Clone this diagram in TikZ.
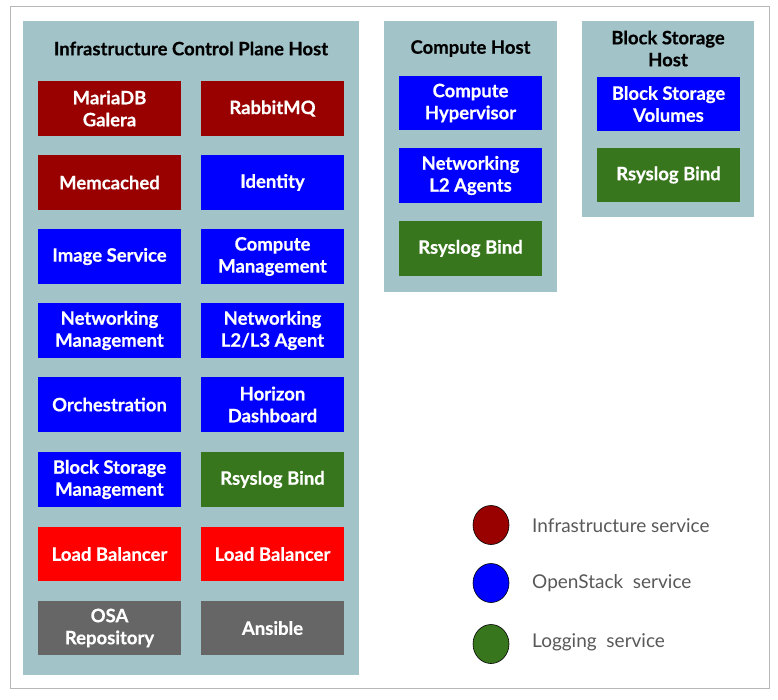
\documentclass[tikz,border=0pt]{standalone}
\usepackage{fontspec}
\setmainfont{Lato}[BoldFeatures={FakeBold=0.5}]
\newfontfamily\legfont{Lato}
\usetikzlibrary{shapes.geometric}
\definecolor{panel}{HTML}{A2C4C9}
\definecolor{infra}{HTML}{990000}
\definecolor{ostack}{HTML}{0000FF}
\definecolor{logc}{HTML}{38761D}
\definecolor{lbred}{HTML}{FF0000}
\definecolor{grayb}{HTML}{666666}
\definecolor{frame}{HTML}{B7B7B7}
\definecolor{legtext}{HTML}{595959}
\tikzset{
  panelbox/.style={fill=panel, draw=none},
  svc/.style={draw=none, minimum width=143pt, minimum height=54.5pt, inner sep=0pt,
    text=white, font=\fontsize{18.5}{22}\selectfont\bfseries, align=center},
  infrabox/.style={svc, fill=infra},
  osbox/.style={svc, fill=ostack},
  logbox/.style={svc, fill=logc},
  lbbox/.style={svc, fill=lbred},
  graybox/.style={svc, fill=grayb},
  hosttitle/.style={font=\fontsize{18.5}{22}\selectfont\bfseries, text=black, align=center, inner sep=0pt},
  legdot/.style={ellipse, draw=black, line width=0.6pt, minimum width=36pt, minimum height=39pt, inner sep=0pt},
  legtxt/.style={anchor=west, inner sep=0pt, text=legtext, font=\fontsize{19}{23}\selectfont\legfont},
}
\begin{document}
\begin{tikzpicture}[x=1pt,y=-1pt]
\useasboundingbox (0,0) rectangle (778,699);
\fill[white] (0,0) rectangle (778,699);
\draw[frame, line width=1pt] (10,6) rectangle (769.5,688);
% panels
\fill[panelbox] (23,21) rectangle (359,675);
\fill[panelbox] (384,21) rectangle (557,292);
\fill[panelbox] (582,21) rectangle (754,217);
% titles
\node[hosttitle] (t1) at (191,48.5) {Infrastructure Control Plane Host};
\node[hosttitle] (t2) at (470.5,48.5) {Compute Host};
\node[hosttitle] (t3) at (668,48.5) {Block Storage\\Host};
% control plane
\node[infrabox] (c11) at (109.5,108.5) {MariaDB\\Galera};
\node[infrabox] (c12) at (272.5,108.5) {RabbitMQ};
\node[infrabox] (c21) at (109.5,182.5) {Memcached};
\node[osbox] (c22) at (272.5,182.5) {Identity};
\node[osbox] (c31) at (109.5,256.5) {Image Service};
\node[osbox] (c32) at (272.5,256.5) {Compute\\Management};
\node[osbox] (c41) at (109.5,330.5) {Networking\\Management};
\node[osbox] (c42) at (272.5,330.5) {Networking\\L2/L3 Agent};
\node[osbox] (c51) at (109.5,404.5) {Orchestration};
\node[osbox] (c52) at (272.5,404.5) {Horizon\\Dashboard};
\node[osbox] (c61) at (109.5,479.5) {Block Storage\\Management};
\node[logbox] (c62) at (272.5,479.5) {Rsyslog Bind};
\node[lbbox] (c71) at (109.5,554) {Load Balancer};
\node[lbbox] (c72) at (272.5,554) {Load Balancer};
\node[graybox] (c81) at (109.5,628) {OSA\\Repository};
\node[graybox] (c82) at (272.5,628) {Ansible};
% compute host
\node[osbox] (h1) at (470.5,103) {Compute\\Hypervisor};
\node[osbox] (h2) at (470.5,175.5) {Networking\\L2 Agents};
\node[logbox] (h3) at (470.5,248.5) {Rsyslog Bind};
% block storage host
\node[osbox] (b1) at (668.5,104) {Block Storage\\Volumes};
\node[logbox] (b2) at (668.5,175) {Rsyslog Bind};
% legend
\node[legdot, fill=infra] (l1) at (491,525) {};
\node[legdot, fill=ostack] (l2) at (491,583) {};
\node[legdot, fill=logc] (l3) at (491,644) {};
\node[legtxt] (lt1) at (532,525.5) {Infrastructure service};
\node[legtxt] (lt2) at (532,583.5) {OpenStack\ \ service};
\node[legtxt] (lt3) at (532,642.5) {Logging\ \ service};
\end{tikzpicture}
\end{document}
